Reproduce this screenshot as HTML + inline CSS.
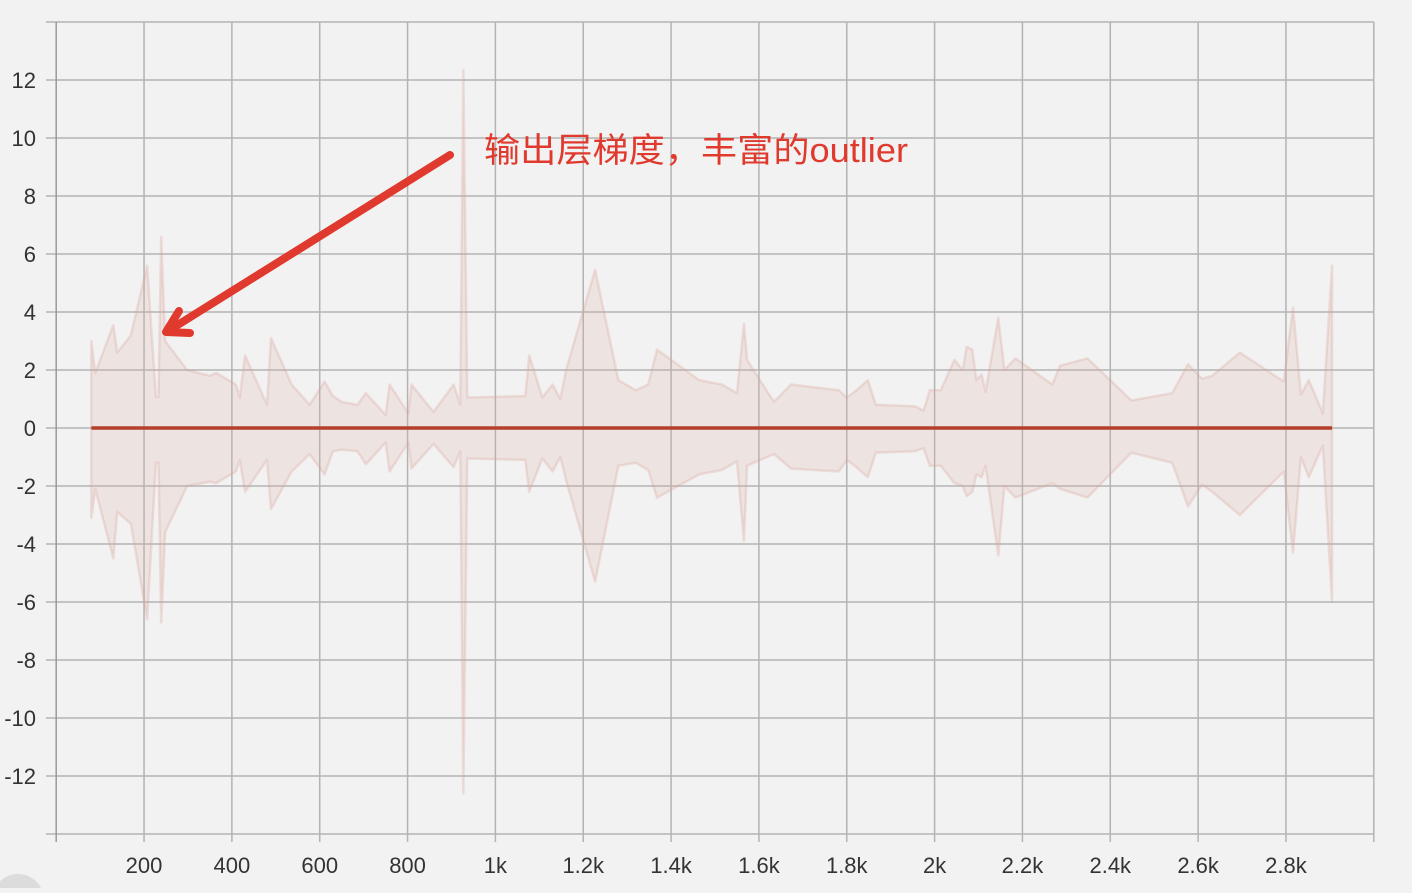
<!DOCTYPE html>
<html><head><meta charset="utf-8">
<style>
html,body{margin:0;padding:0;background:#f2f2f2;}
body{width:1412px;height:888px;overflow:hidden;position:relative;font-family:"Liberation Sans","Noto Sans CJK SC",sans-serif;}
svg text{font-family:"Liberation Sans","Noto Sans CJK SC",sans-serif;}
</style></head>
<body>
<svg id="chart" width="1412" height="888" viewBox="0 0 1412 888" xmlns="http://www.w3.org/2000/svg">
<circle cx="18" cy="900" r="26" fill="#dcdcdc"/>
<g id="grid"></g>
<g id="series"></g>
<g id="axes"></g>
<g id="annot">
<line x1="450" y1="155" x2="176" y2="326" stroke="#e0392e" stroke-width="8" stroke-linecap="round"/>
<polyline points="179,311 166,332 190,333" fill="none" stroke="#e0392e" stroke-width="8" stroke-linecap="round" stroke-linejoin="round"/>
<text x="484" y="162" font-size="34" fill="#e0392e" textLength="424" lengthAdjust="spacingAndGlyphs">输出层梯度，丰富的outlier</text>
</g>
</svg>
<script>
const steps = [80,89,130,139,170,207,227,233,239,248,298,350,364,409,418,430,480,489,536,577,611,630,650,686,705,750,759,802,809,859,905,920,927,936,1068,1077,1107,1130,1148,1161,1227,1280,1320,1348,1368,1464,1516,1550,1566,1573,1634,1673,1782,1800,1818,1848,1866,1955,1975,1989,2014,2045,2064,2073,2086,2095,2107,2116,2145,2159,2184,2268,2286,2348,2448,2541,2577,2609,2632,2695,2795,2816,2834,2852,2884,2905];
const upper = [3.0,1.9,3.55,2.6,3.2,5.6,1.07,1.07,6.6,3.0,2.0,1.8,1.9,1.5,1.05,2.5,0.8,3.1,1.5,0.8,1.6,1.1,0.9,0.8,1.2,0.45,1.5,0.5,1.5,0.55,1.5,0.8,12.35,1.05,1.1,2.5,1.05,1.5,1.0,2.0,5.45,1.65,1.3,1.5,2.7,1.65,1.5,1.2,3.6,2.35,0.9,1.5,1.3,1.05,1.25,1.65,0.8,0.75,0.6,1.3,1.3,2.35,2.0,2.8,2.7,1.65,1.85,1.25,3.8,2.0,2.4,1.5,2.15,2.4,0.95,1.2,2.2,1.7,1.8,2.6,1.6,4.15,1.15,1.65,0.5,5.6];
const lower = [-3.1,-2.1,-4.5,-2.9,-3.3,-6.6,-1.2,-1.2,-6.7,-3.6,-2.0,-1.85,-1.9,-1.5,-1.1,-2.2,-1.1,-2.8,-1.5,-0.9,-1.6,-0.8,-0.75,-0.8,-1.25,-0.5,-1.5,-0.5,-1.4,-0.55,-1.35,-0.8,-12.6,-1.05,-1.1,-2.2,-1.05,-1.5,-1.0,-1.8,-5.3,-1.3,-1.2,-1.45,-2.4,-1.6,-1.45,-1.15,-3.9,-1.3,-0.9,-1.4,-1.5,-1.1,-1.3,-1.7,-0.85,-0.8,-0.7,-1.3,-1.3,-1.9,-2.0,-2.35,-2.2,-1.6,-1.7,-1.3,-4.4,-2.0,-2.4,-1.9,-2.1,-2.4,-0.85,-1.2,-2.7,-1.95,-2.2,-3.0,-1.5,-4.3,-1.0,-1.7,-0.6,-6.0];
const meanVals = [0,0];
const meanSteps = [80,2905];
const xTicks = [200,400,600,800,1000,1200,1400,1600,1800,2000,2200,2400,2600,2800];
const xTickLabels = ["200","400","600","800","1k","1.2k","1.4k","1.6k","1.8k","2k","2.2k","2.4k","2.6k","2.8k"];
const yTicks = [-12,-10,-8,-6,-4,-2,0,2,4,6,8,10,12];

const X0=56.2, XK=0.4392, Y0=428, YK=29;
const sx = v => X0 + v*XK;
const sy = v => Y0 - v*YK;
const NS="http://www.w3.org/2000/svg";
function mk(tag, attrs, parent){const e=document.createElementNS(NS,tag);for(const k in attrs)e.setAttribute(k,attrs[k]);parent.appendChild(e);return e;}
const grid=document.getElementById('grid'), series=document.getElementById('series'), axes=document.getElementById('axes');

for(let v=-14; v<=14; v+=2){
  const l=mk('line',{x1:46,x2:1374,y1:sy(v),y2:sy(v),stroke:'#b3b3b3','stroke-width':1.5},grid);
  
  
}
for(let v=0; v<=3000; v+=200){
  const l=mk('line',{x1:sx(v),x2:sx(v),y1:22,y2:842,stroke:v===0?'#9a9a9a':'#b3b3b3','stroke-width':1.5},grid);
  
  
}
let d='M'+steps.map((s,i)=>sx(s)+','+sy(upper[i])).join(' L');
for(let i=steps.length-1;i>=0;i--) d+=' L'+sx(steps[i])+','+sy(lower[i]);
d+='Z';
const band=mk('path',{d:d,fill:'rgba(220,170,160,0.2)',stroke:'rgba(220,165,155,0.3)','stroke-width':2.5,'stroke-linejoin':'round'},series);


const mean=mk('polyline',{points:meanSteps.map((s,i)=>sx(s)+','+sy(meanVals[i])).join(' '),fill:'none',stroke:'#b5402a','stroke-width':3.5},series);



xTicks.forEach((t,i)=>{
  const tx=mk('text',{x:sx(t),y:873,'font-size':22,'text-anchor':'middle',fill:'#333'},axes);
  tx.textContent=xTickLabels[i];
  
  
});
yTicks.forEach(t=>{
  const tx=mk('text',{x:36,y:sy(t)+8,'font-size':22,'text-anchor':'end',fill:'#333'},axes);
  tx.textContent=String(t);
  
  
});
</script>
</body></html>
